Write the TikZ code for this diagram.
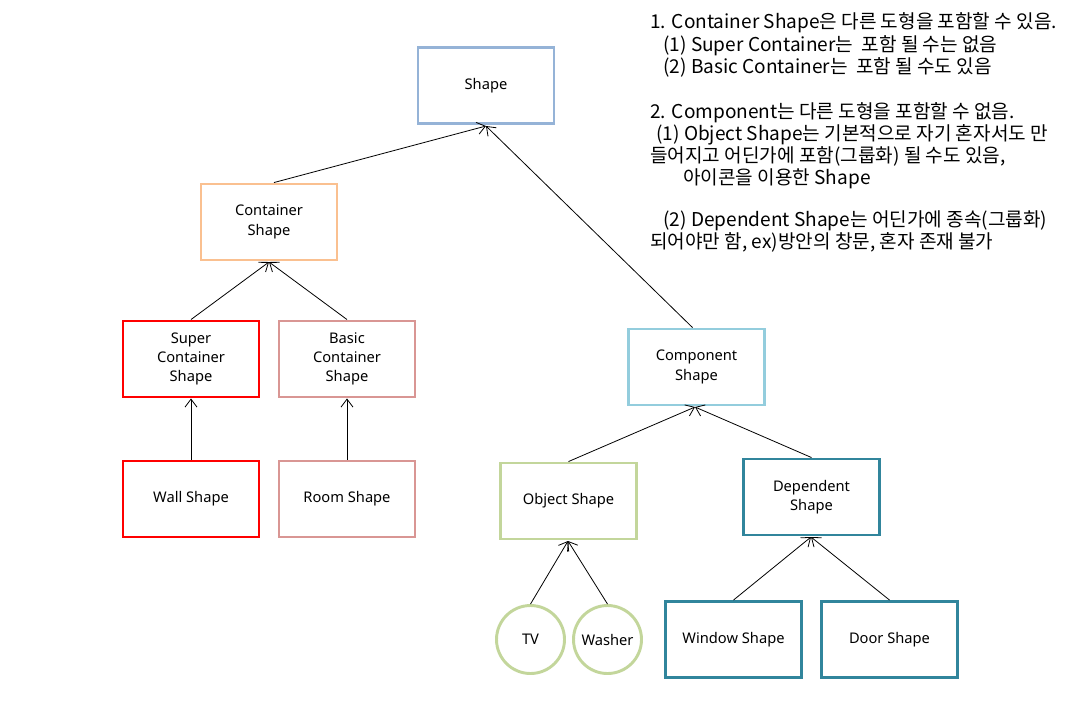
\documentclass[tikz,border=0pt]{standalone}
\usepackage{fontspec}
\setmainfont{Noto Sans}
\newfontfamily\kr{Noto Sans CJK KR}
\usetikzlibrary{arrows.meta}
\definecolor{cShape}{HTML}{95B3D7}
\definecolor{cCont}{HTML}{FAC090}
\definecolor{cSuper}{HTML}{FF0000}
\definecolor{cBasic}{HTML}{D99694}
\definecolor{cComp}{HTML}{93CDDD}
\definecolor{cObj}{HTML}{C3D69B}
\definecolor{cDep}{HTML}{31859C}
\tikzset{
  px/.style={x=0.75pt,y=-0.75pt},
  box/.style={draw=#1,line width=2.2pt,minimum width=102pt,minimum height=57pt,inner sep=1pt,align=center,font=\fontsize{11pt}{14.5pt}\selectfont},
  circ/.style={draw=cObj,line width=2.2pt,circle,minimum size=51pt,inner sep=0pt,font=\fontsize{11pt}{14.5pt}\selectfont},
  link/.style={-{Straight Barb[length=6pt,width=9pt,line width=0.6pt]},line width=0.6pt},
  note/.style={anchor=base west,inner sep=0pt,font=\kr\fontsize{14.3pt}{16pt}\selectfont}
}
\begin{document}
\begin{tikzpicture}[px]
\useasboundingbox (0,0) rectangle (1070,719);
\node[box=cShape] (shape) at (486,85.5) {Shape};
\node[box=cCont] (cont) at (269,222) {Container\\Shape};
\node[box=cSuper] (super) at (191,359) {Super\\Container\\Shape};
\node[box=cBasic] (basic) at (347,359) {Basic\\Container\\Shape};
\node[box=cSuper] (wall) at (191,499) {Wall Shape};
\node[box=cBasic] (room) at (347,499) {Room Shape};
\node[box=cComp] (comp) at (696.5,367) {Component\\Shape};
\node[box=cObj] (obj) at (568.5,501) {Object Shape};
\node[box=cDep] (dep) at (811.5,497) {Dependent\\Shape};
\node[circ] (tv) at (530.5,639.5) {TV};
\node[circ] (washer) at (607.5,639.5) {Washer};
\node[box=cDep] (window) at (733.5,639.5) {Window Shape};
\node[box=cDep] (door) at (889.5,639.5) {Door Shape};

\coordinate (shapeB) at (486,126);
\coordinate (contB) at (269,262);
\coordinate (compB) at (695,407);
\coordinate (objB) at (568,541);
\coordinate (depB) at (811,537);

\draw[link] (cont.north) ++(5,0) -- (shapeB);
\draw[link] (comp.north) ++(-4,0) -- (shapeB);
\draw[link] (super.north) -- (contB);
\draw[link] (basic.north) -- (contB);
\draw[link] (wall.north) -- (super.south);
\draw[link] (room.north) -- (basic.south);
\draw[link] (obj.north) -- (compB);
\draw[link] (dep.north) -- (compB);
\draw[link] (tv.north) -- (objB);
\draw[link] (washer.north) -- (objB);
\draw[link] (window.north) -- (depB);
\draw[link] (door.north) -- (depB);

\node[note] (n1) at (650,28) {1. Container Shape은 다른 도형을 포함할 수 있음.};
\node[note] (n2) at (663,51) {(1) Super Container는\ \ 포함 될 수는 없음};
\node[note] (n3) at (663,73) {(2) Basic Container는\ \ 포함 될 수도 있음};
\node[note] (n4) at (650,118) {2. Component는 다른 도형을 포함할 수 없음.};
\node[note] (n5) at (656,140) {(1) Object Shape는 기본적으로 자기 혼자서도 만};
\node[note] (n6) at (650,162) {들어지고 어딘가에 포함(그룹화) 될 수도 있음,};
\node[note] (n7) at (683,184) {아이콘을 이용한 Shape};
\node[note] (n8) at (663,226) {(2) Dependent Shape는 어딘가에 종속(그룹화)};
\node[note] (n9) at (650,248) {되어야만 함, ex)방안의 창문, 혼자 존재 불가};
\end{tikzpicture}
\end{document}
